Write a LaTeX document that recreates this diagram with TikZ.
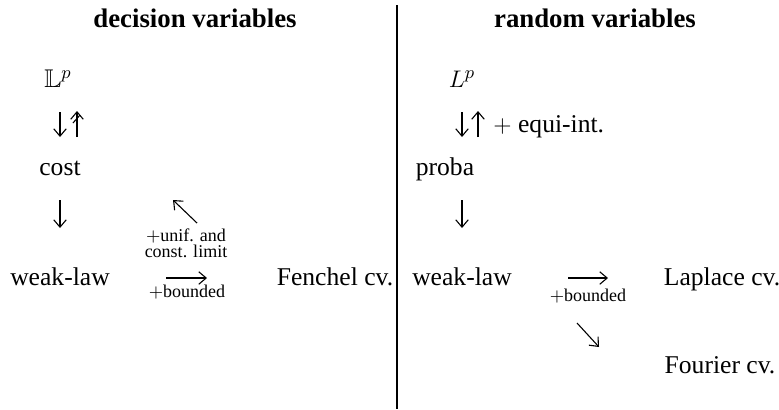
\documentclass[tikz,border=0pt]{standalone}
\usepackage{amssymb}
\usepackage{fontspec}
\setmainfont{Liberation Serif}
\usetikzlibrary{arrows.meta}

\begin{document}
\begin{tikzpicture}[
    x=0.5pt, y=-0.5pt,
    txt/.style={inner sep=0pt, anchor=base, font=\fontsize{12.8}{15}\selectfont},
    head/.style={txt, font=\fontsize{13.4}{16}\selectfont\bfseries},
    small/.style={txt, font=\fontsize{9}{10}\selectfont},
    arr/.style={line width=0.55pt, -{Straight Barb[length=1.3mm, width=2.2mm]}}
]
\useasboundingbox (0,0) rectangle (779,409);

% Headings and separator
\node[head] (hdec) at (195,27) {decision variables};
\node[head] (hrand) at (595,27) {random variables};
\draw[line width=1pt] (397,5) -- (397,409);

% Left column: decision variables
\node[txt] (Lbb) at (58,87) {$\mathbb{L}^p$};
\node[txt] (cost) at (60,175) {cost};
\node[txt] (wlD) at (60,285) {weak-law};
\node[txt] (fenchel) at (335,285) {Fenchel cv.};
\node[small] (unif) at (186,241) {$+$unif. and};
\node[small] (climit) at (186,257) {const. limit};
\node[small] (bndD) at (187,297) {$+$bounded};

% Right column: random variables
\node[txt] (Lp) at (462,87) {$L^p$};
\node[txt, anchor=base west] (equi) at (493,132) {$+$ equi-int.};
\node[txt] (proba) at (445,175) {proba};
\node[txt] (wlR) at (462,285) {weak-law};
\node[small] (bndR) at (588,301) {$+$bounded};
\node[txt] (laplace) at (722,285) {Laplace cv.};
\node[txt] (fourier) at (720,373) {Fourier cv.};

% Arrow ends
\coordinate (dA1) at (60,112);  \coordinate (dA2) at (60,137);
\coordinate (uA1) at (77,137);  \coordinate (uA2) at (77,111);
\coordinate (dB1) at (60,200);  \coordinate (dB2) at (60,228);
\coordinate (nw1) at (197,223); \coordinate (nw2) at (173,200);
\coordinate (rA1) at (166,278); \coordinate (rA2) at (207,278);
\coordinate (dC1) at (462,112); \coordinate (dC2) at (462,137);
\coordinate (uC1) at (478,137); \coordinate (uC2) at (478,111);
\coordinate (dE1) at (462,200); \coordinate (dE2) at (462,228);
\coordinate (rB1) at (568,278); \coordinate (rB2) at (608,278);
\coordinate (se1) at (577,323); \coordinate (se2) at (599,347);

% Arrows
\draw[arr] (dA1) -- (dA2);
\draw[arr] (uA1) -- (uA2);
\draw[line width=0.55pt] (73,123) -- (80,115);
\draw[arr] (dB1) -- (dB2);
\draw[arr] (nw1) -- (nw2);
\draw[arr] (rA1) -- (rA2);
\draw[arr] (dC1) -- (dC2);
\draw[arr] (uC1) -- (uC2);
\draw[arr] (dE1) -- (dE2);
\draw[arr] (rB1) -- (rB2);
\draw[arr] (se1) -- (se2);

\end{tikzpicture}
\end{document}
